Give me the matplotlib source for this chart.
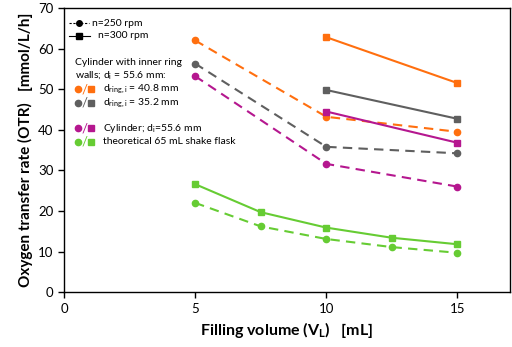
import matplotlib.pyplot as plt

plt.rcParams['font.family'] = ['Lato', 'DejaVu Sans']

# Filling volumes
v_short = [10, 15]
v_long = [5, 10, 15]
v_flask = [5, 7.5, 10, 12.5, 15]

# OTR values [mmol/L/h]
orange_250 = [62.0, 43.2, 39.5]
orange_300 = [62.8, 51.5]
grey_250 = [56.3, 35.8, 34.2]
grey_300 = [49.8, 42.7]
magenta_250 = [53.2, 31.6, 26.0]
magenta_300 = [44.5, 36.8]
green_250 = [22.0, 16.2, 13.1, 11.1, 9.7]
green_300 = [26.6, 19.7, 15.9, 13.4, 11.8]

c_orange = '#FF6F0F'
c_grey = '#5F5F5F'
c_magenta = '#B5178F'
c_green = '#66CC33'

fig = plt.figure(figsize=(5.12, 3.47), dpi=100)
ax = fig.add_axes([0.125, 0.158, 0.871, 0.819])

dash = dict(ls=(0, (4.5, 3)), lw=1.5, marker='o', ms=4.5)
solid = dict(ls='-', lw=1.5, marker='s', ms=4.5)

ax.plot(v_long, orange_250, color=c_orange, **dash)
ax.plot(v_short, orange_300, color=c_orange, **solid)
ax.plot(v_long, grey_250, color=c_grey, **dash)
ax.plot(v_short, grey_300, color=c_grey, **solid)
ax.plot(v_long, magenta_250, color=c_magenta, **dash)
ax.plot(v_short, magenta_300, color=c_magenta, **solid)
ax.plot(v_flask, green_250, color=c_green, **dash)
ax.plot(v_flask, green_300, color=c_green, **solid)

ax.set_xlim(0, 17)
ax.set_ylim(0, 70)
ax.set_xticks([0, 5, 10, 15])
ax.set_yticks(range(0, 71, 10))
ax.tick_params(direction='out', labelsize=9.5, length=4, width=1, colors='black')
for s in ax.spines.values():
    s.set_linewidth(1)

ax.set_xlabel('Filling volume (V$_\\mathregular{L}$)   [mL]', fontsize=11.5, fontweight='bold')
ax.set_ylabel('Oxygen transfer rate (OTR)   [mmol/L/h]', fontsize=11, fontweight='bold')

# hand-made legend
fs = 7.5
ax.plot([0.18, 0.95], [66.3, 66.3], color='black', ls=(0, (2, 1.5)), lw=0.8)
ax.plot([0.56], [66.3], 'ko', ms=4)
ax.text(1.06, 66.3, 'n=250 rpm', fontsize=fs, va='center')
ax.plot([0.18, 1.0], [63.1, 63.1], color='black', lw=0.8)
ax.plot([0.56], [63.1], 'ks', ms=4)
ax.text(1.29, 63.1, 'n=300 rpm', fontsize=fs, va='center')

ax.text(0.42, 56.6, 'Cylinder with inner ring', fontsize=fs, va='center')
ax.text(0.42, 53.3, 'walls; d$_\\mathregular{i}$ = 55.6 mm:', fontsize=fs, va='center')

rows = [(50.0, c_orange, 'd$_\\mathregular{ring,i}$ = 40.8 mm'),
        (46.6, c_grey, 'd$_\\mathregular{ring,i}$ = 35.2 mm'),
        (40.4, c_magenta, 'Cylinder; d$_\\mathregular{i}$=55.6 mm'),
        (37.0, c_green, 'theoretical 65 mL shake flask')]
for y, c, label in rows:
    ax.plot([0.53], [y], 'o', color=c, ms=4.5)
    ax.text(0.79, y, '/', color=c, fontsize=fs + 2, va='center', ha='center')
    ax.plot([1.03], [y], 's', color=c, ms=4.5)
    ax.text(1.48, y, label, fontsize=fs, va='center')

fig.savefig('out.png', dpi=100)
